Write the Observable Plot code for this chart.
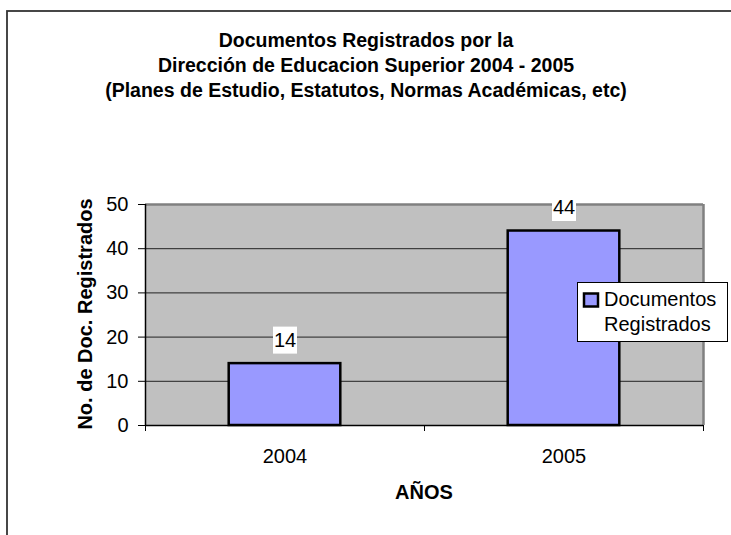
<!DOCTYPE html>
<html>
<head>
<meta charset="utf-8">
<script src="https://cdn.jsdelivr.net/npm/d3@7"></script>
<script src="https://cdn.jsdelivr.net/npm/@observablehq/plot@0.6"></script>
<style>
  html, body { margin: 0; padding: 0; background: white; }
  svg { display: block; }
</style>
</head>
<body>
<div id="chart"></div>
<script>
// ---- data ----
const years = ["2004", "2005"];
const documentos = [14, 44];
const yTicks = [0, 10, 20, 30, 40, 50];
const gridValues = [10, 20, 30, 40];
const titleLines = [
  "Documentos Registrados por la",
  "Dirección de Educacion Superior 2004 - 2005",
  "(Planes de Estudio, Estatutos, Normas Académicas, etc)"
];
const yLabel = "No. de Doc. Registrados";
const xLabel = "AÑOS";
const legendLines = ["Documentos", "Registrados"];

const table = years.map((y, i) => ({i, year: y, value: documentos[i]}));
const n = years.length;
const font = "'Liberation Sans', Arial, sans-serif";
const barFill = "#9999ff";

// rectangle symbol used as white label background
const labelBox = { draw(ctx) { ctx.rect(-12, -13.5, 24, 27); } };

const svg = Plot.plot({
  width: 731,
  height: 535,
  marginLeft: 145,
  marginRight: 28,
  marginTop: 204,
  marginBottom: 110,
  style: { fontFamily: font, fontSize: "20px", color: "black", background: "white" },
  x: { domain: [0, n], label: null },
  y: { domain: [0, 50], label: null },
  marks: [
    Plot.frame({ fill: "#c0c0c0", stroke: "none" }),
    Plot.ruleY(gridValues, { stroke: "#222", strokeWidth: 1 }),
    Plot.ruleY([yTicks[yTicks.length - 1]], { stroke: "#808080", strokeWidth: 2.5 }),
    Plot.ruleX([n], { stroke: "#808080", strokeWidth: 2.5 }),
    Plot.rectY(table, {
      x1: d => d.i + 0.3, x2: d => d.i + 0.7, y: "value",
      fill: barFill, stroke: "black", strokeWidth: 2.5
    }),
    Plot.ruleX([0], { stroke: "black", strokeWidth: 1.5 }),
    Plot.ruleY([0], { stroke: "black", strokeWidth: 1.5 }),
    Plot.axisY({ ticks: yTicks, tickSize: 7, tickPadding: 10, fontSize: 20, label: null }),
    Plot.axisX({ ticks: d3.range(0, n + 1), tickSize: 6, tickFormat: () => "", label: null }),
    Plot.axisX({ ticks: years.map((_, i) => i + 0.5), tickSize: 0, tickPadding: 23.5,
                 tickFormat: d => years[Math.round(d - 0.5)], fontSize: 20, label: null }),
    Plot.dot(table, { x: d => d.i + 0.5, y: "value", dy: -23.5, symbol: labelBox, r: 5, fill: "white", stroke: "none" }),
    Plot.text(table, { x: d => d.i + 0.5, y: "value", dy: -23.5, text: d => String(d.value), fontSize: 20, fill: "black" })
  ]
});

const s = d3.select(svg);

// outer chart border (top and left visible)
s.insert("rect", ":first-child")
  .attr("x", 7).attr("y", 11).attr("width", 760).attr("height", 560)
  .attr("fill", "none").attr("stroke", "#333").attr("stroke-width", 1.8);

// title
const title = s.append("g").attr("font-family", font).attr("font-weight", "bold")
  .attr("font-size", 19.5).attr("text-anchor", "middle").attr("fill", "black");
titleLines.forEach((t, k) => {
  title.append("text").attr("x", 366).attr("y", 46.7 + k * 25.2).text(t);
});

// y label
s.append("text")
  .attr("transform", "translate(92,314) rotate(-90)")
  .attr("text-anchor", "middle").attr("font-family", font).attr("font-weight", "bold")
  .attr("font-size", 20).attr("fill", "black").text(yLabel);

// x label
s.append("text")
  .attr("x", 424).attr("y", 499.3)
  .attr("text-anchor", "middle").attr("font-family", font).attr("font-weight", "bold")
  .attr("font-size", 20).attr("fill", "black").text(xLabel);

// legend
const lg = s.append("g").attr("font-family", font).attr("font-size", 20).attr("text-anchor", "start");
lg.append("rect").attr("x", 577.5).attr("y", 282.5).attr("width", 150).attr("height", 59)
  .attr("fill", "white").attr("stroke", "black").attr("stroke-width", 1);
lg.append("rect").attr("x", 584).attr("y", 293.5).attr("width", 14).attr("height", 13)
  .attr("fill", barFill).attr("stroke", "black").attr("stroke-width", 2.5);
legendLines.forEach((t, k) => {
  lg.append("text").attr("x", 604).attr("y", 306 + k * 24.7)
    .attr("text-anchor", "start").attr("fill", "black").text(t);
});

document.getElementById("chart").appendChild(svg);
</script>
</body>
</html>
